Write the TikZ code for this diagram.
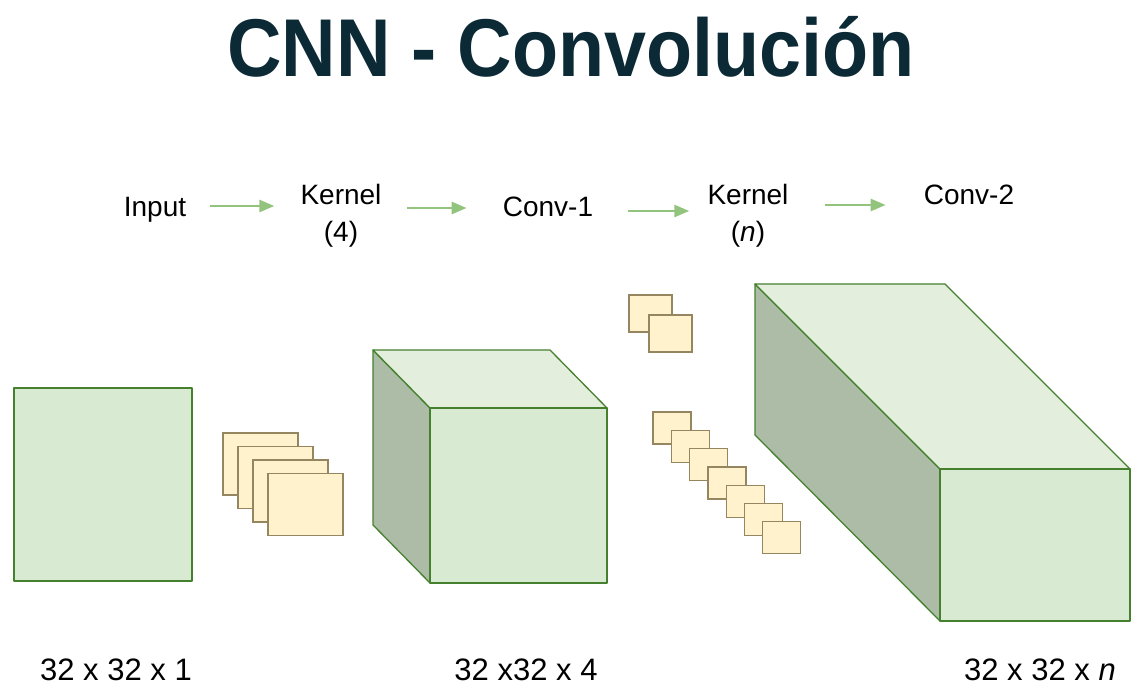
\documentclass[tikz,border=0pt]{standalone}
\usepackage{fontspec}
\setmainfont{Liberation Sans}
\newfontfamily\titlefont[FakeStretch=0.92]{Liberation Sans}
\usetikzlibrary{arrows.meta}

\definecolor{titleblue}{HTML}{0B2A35}
\definecolor{mapfront}{HTML}{D9EAD3}
\definecolor{maptop}{HTML}{E3EFDC}
\definecolor{mapside}{HTML}{ADBCA7}
\definecolor{mapedge}{HTML}{45802F}
\definecolor{kernfill}{HTML}{FFF2CC}
\definecolor{kernedge}{HTML}{968660}
\definecolor{flowgreen}{HTML}{93C47D}

\tikzset{
  front/.style={fill=mapfront,draw=mapedge,line width=1.3pt,line join=round},
  topface/.style={front,fill=maptop},
  sideface/.style={front,fill=mapside},
  kern/.style={fill=kernfill,draw=kernedge,line width=1.3pt},
  lbl/.style={font=\fontsize{28}{37}\selectfont,anchor=base,align=center,inner sep=0pt},
  dim/.style={font=\fontsize{31}{37}\selectfont,anchor=base,inner sep=0pt},
  flow/.style={draw=flowgreen,line width=2.5pt,-{Triangle[length=15pt,width=12pt]}}
}

\begin{document}
\begin{tikzpicture}[x=1pt,y=-1pt]
\useasboundingbox (0,0) rectangle (1143,692);

\node[font=\titlefont\bfseries\fontsize{82}{90}\selectfont,text=titleblue,anchor=base,inner sep=0pt] (title) at (571,77) {CNN - Convolución};

% labels on top
\node[lbl] (input) at (155,217) {Input};
\node[lbl] (kern1) at (341,242) {Kernel\\(4)};
\node[lbl] (conv1) at (548,217) {Conv-1};
\node[lbl] (kern2) at (748,242) {Kernel\\(\textit{n})};
\node[lbl] (conv2) at (969,205) {Conv-2};

\draw[flow,shorten <=24pt,shorten >=26pt] ([yshift=11pt]input.base east) -- ([yshift=11pt]input.base east -| kern1.west);
\draw[flow,shorten <=25pt,shorten >=36pt] ([yshift=9pt]conv1.base west -| kern1.east) -- ([yshift=9pt]conv1.base west);
\draw[flow,shorten <=35pt,shorten >=18pt] ([yshift=6pt]conv1.base east) -- ([yshift=6pt]conv1.base east -| kern2.west);
\draw[flow,shorten <=36pt,shorten >=38pt] (conv2.base west -| kern2.east) -- (conv2.base west);

% input
\filldraw[front] (14,388) rectangle (192,581);

% kernels (4)
\foreach \i in {0,...,3}
  \filldraw[kern] ({223+15*\i},{433+13.5*\i}) rectangle +(75,62);

% conv-1
\filldraw[sideface] (373,350) -- (430,408) -- (430,583) -- (373,525) -- cycle;
\filldraw[topface] (373,350) -- (550,350) -- (607,408) -- (430,408) -- cycle;
\filldraw[front] (430,408) rectangle (607,583);

% kernels (n)
\foreach \i in {0,1}
  \filldraw[kern] ({629+20*\i},{295+20*\i}) rectangle +(43,37);
\foreach \i in {0,...,6}
  \filldraw[kern] ({653+18.3*\i},{412+18.3*\i}) rectangle +(38,32);

% conv-2
\filldraw[sideface] (755,284) -- (940,469) -- (940,621) -- (755,435) -- cycle;
\filldraw[topface] (755,284) -- (945,284) -- (1130,469) -- (940,469) -- cycle;
\filldraw[front] (940,469) rectangle (1130,621);

% sizes
\node[dim] (dim1) at (116,680) {32 x 32 x 1};
\node[dim] (dim2) at (526,680) {32 x32 x 4};
\node[dim] (dim3) at (1040,680) {32 x 32 x \textit{n}};
\end{tikzpicture}
\end{document}
